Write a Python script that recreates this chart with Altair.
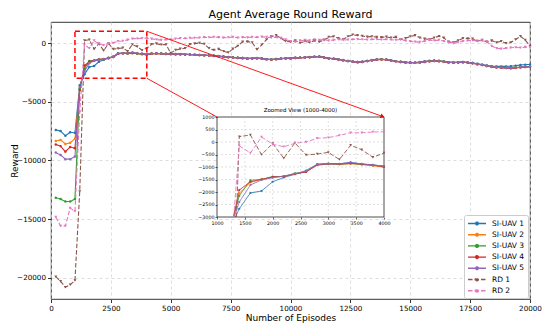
import math
import altair as alt
import pandas as pd

# ---------------- data ----------------
episodes = list(range(200, 20001, 200))
series_names = ["SI-UAV 1", "SI-UAV 2", "SI-UAV 3", "SI-UAV 4", "SI-UAV 5", "RD 1", "RD 2"]
series_colors = ["#1f77b4", "#ff7f0e", "#2ca02c", "#d62728", "#9467bd", "#8c564b", "#e377c2"]
rd_names = ["RD 1", "RD 2"]

si_uav_1 = [
    -7400, -7500, -7900, -7600, -7650, -3600, -2670, -2040, -1960, -1590,
    -1420, -1290, -1140, -890, -860, -870, -810, -890, -910, -980,
    -910, -890, -900, -930, -930, -950, -950, -970, -980, -1000,
    -1030, -1040, -1070, -1090, -1120, -1170, -1200, -1240, -1260, -1280,
    -1320, -1300, -1290, -1320, -1380, -1410, -1360, -1330, -1300, -1300,
    -1260, -1250, -1220, -1200, -1170, -1160, -1230, -1300, -1340, -1390,
    -1460, -1530, -1590, -1610, -1600, -1530, -1460, -1400, -1390, -1420,
    -1480, -1540, -1600, -1640, -1660, -1660, -1620, -1560, -1500, -1480,
    -1510, -1570, -1630, -1650, -1640, -1620, -1650, -1700, -1770, -1840,
    -1920, -1970, -1990, -1990, -1990, -1970, -1930, -1870, -1840, -1830,
]
si_uav_2 = [
    -8350, -8250, -8600, -8500, -8150, -3950, -2050, -1620, -1500, -1400,
    -1370, -1290, -1180, -930, -880, -900, -870, -900, -950, -1010,
    -920, -900, -910, -920, -940, -950, -960, -960, -990, -1010,
    -1020, -1050, -1060, -1100, -1130, -1160, -1210, -1230, -1270, -1290,
    -1330, -1310, -1300, -1330, -1390, -1420, -1370, -1340, -1310, -1310,
    -1280, -1260, -1240, -1210, -1180, -1170, -1240, -1310, -1350, -1400,
    -1470, -1540, -1600, -1630, -1610, -1540, -1470, -1420, -1400, -1430,
    -1490, -1560, -1620, -1660, -1680, -1690, -1660, -1610, -1560, -1530,
    -1550, -1600, -1650, -1670, -1660, -1640, -1670, -1720, -1800, -1870,
    -1960, -2030, -2070, -2100, -2120, -2140, -2110, -2070, -2040, -2020,
]
si_uav_3 = [
    -13170, -13280, -13500, -13500, -13280, -3850, -2150, -1530, -1500, -1380,
    -1380, -1250, -1200, -890, -880, -890, -850, -900, -930, -960,
    -900, -880, -900, -910, -930, -940, -940, -950, -970, -990,
    -1010, -1030, -1050, -1080, -1110, -1150, -1190, -1220, -1250, -1270,
    -1310, -1290, -1280, -1310, -1370, -1400, -1360, -1320, -1290, -1290,
    -1260, -1240, -1220, -1190, -1160, -1150, -1220, -1290, -1330, -1380,
    -1450, -1520, -1580, -1610, -1590, -1520, -1450, -1400, -1380, -1410,
    -1470, -1540, -1600, -1640, -1660, -1670, -1640, -1590, -1540, -1510,
    -1530, -1580, -1630, -1650, -1640, -1620, -1650, -1700, -1780, -1850,
    -1940, -2010, -2050, -2080, -2100, -2120, -2090, -2050, -2020, -2000,
]
si_uav_4 = [
    -8640, -8780, -9250, -8860, -8970, -4000, -1920, -1590, -1490, -1400,
    -1380, -1280, -1200, -920, -870, -880, -860, -880, -930, -1000,
    -910, -900, -920, -930, -940, -950, -960, -970, -990, -1010,
    -1030, -1050, -1070, -1100, -1130, -1170, -1210, -1240, -1270, -1290,
    -1330, -1310, -1300, -1330, -1390, -1420, -1380, -1340, -1310, -1310,
    -1280, -1260, -1240, -1210, -1180, -1170, -1240, -1310, -1350, -1400,
    -1470, -1540, -1600, -1630, -1610, -1540, -1470, -1420, -1400, -1430,
    -1490, -1560, -1620, -1660, -1680, -1690, -1660, -1610, -1560, -1530,
    -1550, -1600, -1650, -1670, -1660, -1640, -1670, -1720, -1800, -1870,
    -1960, -2040, -2080, -2110, -2130, -2150, -2120, -2080, -2050, -2030,
]
si_uav_5 = [
    -9330, -9530, -9890, -9890, -9670, -3730, -2400, -1720, -1520, -1430,
    -1360, -1270, -1170, -900, -870, -880, -820, -870, -920, -960,
    -900, -890, -910, -920, -930, -940, -950, -960, -980, -1000,
    -1020, -1040, -1060, -1090, -1120, -1160, -1200, -1230, -1260, -1280,
    -1320, -1300, -1290, -1320, -1380, -1410, -1370, -1330, -1300, -1300,
    -1270, -1250, -1230, -1200, -1170, -1160, -1230, -1300, -1340, -1390,
    -1460, -1530, -1590, -1620, -1600, -1530, -1460, -1410, -1390, -1420,
    -1480, -1550, -1610, -1650, -1670, -1680, -1650, -1600, -1550, -1520,
    -1540, -1590, -1640, -1660, -1650, -1630, -1660, -1710, -1790, -1860,
    -1950, -2020, -2060, -2090, -2110, -2130, -2100, -2060, -2030, -2010,
]
rd_1 = [
    -19900, -20300, -20800, -20580, -20220, -12640, 214, 280, -507, -60,
    -650, -35, -520, -480, -415, -700, -130, -310, -610, -440,
    -100, -50, -150, -120, -850, -600, -500, -450, -100, -50,
    0, -80, -450, -600, -520, -700, -820, -500, -250, 100,
    120, 50, -550, -150, 300, 550, 650, 400, 150, 100,
    200, 0, 150, 50, 200, 100, 250, 500, 550, 400,
    300, 550, 700, 650, 600, 520, 550, 500, 480, 520,
    450, 500, 300, 400, 550, 650, 450, 350, 300, 450,
    580, 450, 100, 30, 200, 400, 380, 350, 150, 250,
    100, 200, 50, 150, -20, 50, 300, 580, 250, -250,
]
rd_2 = [
    -14830, -15580, -15580, -14060, -14330, -5850, -150, -440, 200, -90,
    -190, -50, 0, 150, 175, 265, 370, 370, 400, 410,
    350, 300, 250, 280, 300, 350, 400, 380, 420, 430,
    450, 480, 470, 500, 480, 450, 470, 500, 450, 480,
    460, 500, 480, 520, 500, 460, 480, 420, 300, 150,
    100, 200, 250, 220, 300, 250, 300, 200, 250, 300,
    250, 280, 300, 320, 300, 280, 300, 320, 280, 300,
    280, 250, 300, 200, 150, 100, 80, 150, 250, 200,
    250, 150, 50, -30, 50, 150, 200, 220, 180, 200,
    100, -250, -450, -500, -450, -400, -380, -400, -350, -360,
]
all_series = [si_uav_1, si_uav_2, si_uav_3, si_uav_4, si_uav_5, rd_1, rd_2]

chart_title = "Agent Average Round Reward"
inset_title_text = "Zoomed View (1000-4000)"
x_ticks = [0, 2500, 5000, 7500, 10000, 12500, 15000, 17500, 20000]
y_ticks = [-20000, -15000, -10000, -5000, 0]
inset_x_ticks = [1000, 1500, 2000, 2500, 3000, 3500, 4000]
inset_y_ticks = [-3000, -2500, -2000, -1500, -1000, -500, 0, 500, 1000]
zoom_x = [1000, 4000]
zoom_y = [-3000, 1000]
# where each series enters the inset at its lower edge
inset_entry_x = [1330, 1300, 1300, 1295, 1310, 1350, 1300]

rows = []
for name, vals in zip(series_names, all_series):
    for ep, v in zip(episodes, vals):
        rows.append({"series": name, "episode": ep, "reward": v,
                     "rd": name in rd_names})
df = pd.DataFrame(rows)

inset_rows = []
for name, vals, ex in zip(series_names, all_series, inset_entry_x):
    inset_rows.append({"series": name, "episode": ex, "reward": zoom_y[0],
                       "marker": False, "rd": name in rd_names})
    for ep, v in zip(episodes, vals):
        if 1400 <= ep <= zoom_x[1]:
            inset_rows.append({"series": name, "episode": ep, "reward": v,
                               "marker": True, "rd": name in rd_names})
inset_df = pd.DataFrame(inset_rows)

# ---------------- layout ----------------
W, H = 479, 277
IX0, IX1, IY0, IY1 = 166, 333, 95, 195
FONT = "DejaVu Sans"
XDOM = [0, 20000]
YDOM = [-21800, 1790]

xs = alt.Scale(domain=XDOM, nice=False, zero=False)
ys = alt.Scale(domain=YDOM, nice=False, zero=False)
xi = alt.Scale(domain=zoom_x, range=[IX0, IX1], nice=False, zero=False)
yi = alt.Scale(domain=zoom_y, range=[IY1, IY0], nice=False, zero=False)

color_scale = alt.Scale(domain=series_names, range=series_colors)
dash_scale = alt.Scale(domain=series_names, range=[[1, 0]] * 5 + [[4.5, 2]] * 2)

LEG_PATH = "M-2,0L2,0M-0.3,0A0.3,0.3,0,1,0,0.3,0A0.3,0.3,0,1,0,-0.3,0"
legend_def = alt.Legend(
    title=None, orient="none", legendX=413, legendY=193,
    symbolType=LEG_PATH, symbolSize=81, symbolOffset=4.5, symbolStrokeWidth=1.4,
    labelOffset=9.5, labelFontSize=7.5, labelFont=FONT, labelColor="black",
    padding=3, rowPadding=1.2, strokeColor="#cccccc", fillColor="white",
    cornerRadius=2,
)

x_axis = alt.Axis(values=x_ticks, format="d", labelFontSize=7.2, titleFontSize=9,
                  tickSize=3.5, tickWidth=0.8, labelPadding=2, grid=True,
                  gridDash=[3, 3], gridColor="#d4d4d4", gridWidth=0.8,
                  labelFlush=False, domain=False,
                  titleX=W / 2, titleY=21, titleAlign="center", titleBaseline="alphabetic")
y_axis = alt.Axis(values=y_ticks, format="d", labelFontSize=7.2, titleFontSize=9,
                  tickSize=3.5, tickWidth=0.8, labelPadding=2, grid=True,
                  gridDash=[3, 3], gridColor="#d4d4d4", gridWidth=0.8,
                  labelFlush=False, domain=False,
                  titleX=-37, titleY=H / 2, titleAngle=270, titleAlign="center",
                  titleBaseline="middle")

X_main = alt.X("episode:Q", scale=xs, axis=x_axis, title="Number of Episodes")
Y_main = alt.Y("reward:Q", scale=ys, axis=y_axis, title="Reward")

xi_axis = alt.Axis(orient="bottom", offset=IY1 - H, values=inset_x_ticks, format="d",
                   labelFontSize=4.8, tickSize=2, tickWidth=0.6, labelPadding=1,
                   grid=False, domain=False, labelFlush=False, zindex=1)
yi_axis = alt.Axis(orient="left", offset=-IX0, values=inset_y_ticks, format="d",
                   labelFontSize=4.8, tickSize=2, tickWidth=0.6, labelPadding=1,
                   grid=False, domain=False, labelFlush=False, zindex=1)
X_in = alt.X("episode:Q", scale=xi, axis=xi_axis, title=None)
Y_in = alt.Y("reward:Q", scale=yi, axis=yi_axis, title=None)

C = alt.Color("series:N", scale=color_scale, legend=legend_def)
C_noleg = alt.Color("series:N", scale=color_scale, legend=None)
D = alt.StrokeDash("series:N", scale=dash_scale, legend=legend_def)
D_noleg = alt.StrokeDash("series:N", scale=dash_scale, legend=None)

# ---------------- main panel ----------------
main_lines = alt.Chart(df).mark_line(strokeWidth=1.1).encode(
    x=X_main, y=Y_main, color=C, strokeDash=D, order="episode:Q")
main_pts_si = alt.Chart(df).transform_filter("!datum.rd").mark_point(
    filled=True, size=6, opacity=1, shape="circle").encode(x=X_main, y=Y_main, color=C_noleg)
main_pts_rd = alt.Chart(df).transform_filter("datum.rd").mark_point(
    filled=True, size=9, opacity=1, shape="triangle-down").encode(x=X_main, y=Y_main, color=C_noleg)

box_df = pd.DataFrame({"episode": [zoom_x[0]], "episode2": [zoom_x[1]],
                       "reward": [zoom_y[0]], "reward2": [zoom_y[1]]})
zoom_rect = alt.Chart(box_df).mark_rect(fillOpacity=0, stroke="#ff0000", strokeWidth=1.5,
                                        strokeDash=[5, 3]).encode(
    x=X_main, x2="episode2:Q", y=Y_main, y2="reward2:Q")

conn1 = alt.Chart(pd.DataFrame({"episode": [zoom_x[1]], "reward": [zoom_y[1]]})).mark_rule(
    color="#ff0000", strokeWidth=0.9).encode(x=X_main, y=Y_main, x2=alt.value(IX1), y2=alt.value(IY0))
conn2 = alt.Chart(pd.DataFrame({"episode": [zoom_x[1]], "reward": [zoom_y[0]]})).mark_rule(
    color="#ff0000", strokeWidth=0.9).encode(x=X_main, y=Y_main, x2=alt.value(IX0), y2=alt.value(IY0))

title_mark = alt.Chart(pd.DataFrame({"t": [chart_title]})).mark_text(
    fontSize=11, font=FONT, color="black", baseline="alphabetic").encode(
    text="t:N", x=alt.value(W / 2), y=alt.value(-4.5))

main = alt.layer(main_lines, main_pts_si, main_pts_rd, zoom_rect, conn1, conn2, title_mark)

# arrowhead direction (styling only)
sx = (zoom_x[1] - XDOM[0]) / (XDOM[1] - XDOM[0]) * W
sy = (YDOM[1] - zoom_y[1]) / (YDOM[1] - YDOM[0]) * H
dx, dy = IX1 - sx, IY0 - sy
ang = math.degrees(math.atan2(dy, dx))
L = math.hypot(dx, dy)
ax_, ay_ = IX1 - 2.2 * dx / L, IY0 - 2.2 * dy / L
arrow = alt.Chart(pd.DataFrame({"k": [0]})).mark_point(
    shape="triangle", filled=True, size=22, color="#ff0000", opacity=1,
    angle=90 + ang).encode(x=alt.value(ax_), y=alt.value(ay_))

# ---------------- inset panel ----------------
inset_bg = alt.Chart(box_df).mark_rect(fill="white", stroke="#222222", strokeWidth=0.8).encode(
    x=X_in, x2="episode2:Q", y=Y_in, y2="reward2:Q")
grid_x = alt.Chart(pd.DataFrame({"episode": inset_x_ticks[1:-1]})).mark_rule(
    color="#cccccc", strokeDash=[2, 2], strokeWidth=0.6).encode(
    x=X_in, y=alt.value(IY0), y2=alt.value(IY1))
grid_y = alt.Chart(pd.DataFrame({"reward": inset_y_ticks[1:-1]})).mark_rule(
    color="#cccccc", strokeDash=[2, 2], strokeWidth=0.6).encode(
    y=Y_in, x=alt.value(IX0), x2=alt.value(IX1))
inset_lines = alt.Chart(inset_df).mark_line(strokeWidth=0.9).encode(
    x=X_in, y=Y_in, color=C_noleg, strokeDash=D_noleg, order="episode:Q")
inset_pts_si = alt.Chart(inset_df).transform_filter("datum.marker && !datum.rd").mark_point(
    filled=True, size=5, opacity=1, shape="circle").encode(x=X_in, y=Y_in, color=C_noleg)
inset_pts_rd = alt.Chart(inset_df).transform_filter("datum.marker && datum.rd").mark_point(
    filled=True, size=7, opacity=1, shape="triangle-down").encode(x=X_in, y=Y_in, color=C_noleg)
inset_title = alt.Chart(pd.DataFrame({"t": [inset_title_text]})).mark_text(
    fontSize=5.5, font=FONT, color="black").encode(
    text="t:N", x=alt.value((IX0 + IX1) / 2), y=alt.value(IY0 - 7))

inset = alt.layer(inset_bg, grid_x, grid_y, inset_lines, inset_pts_si, inset_pts_rd,
                  inset_title, arrow)

chart = alt.layer(main, inset).resolve_scale(x="independent", y="independent").properties(
    width=W, height=H,
    padding={"left": 43, "top": 14, "right": 12, "bottom": 26},
    autosize=alt.AutoSizeParams(type="none"),
).configure(font=FONT).configure_view(stroke="black", strokeWidth=0.8).configure_axis(
    labelColor="black", titleColor="black", tickColor="black", labelFont=FONT,
    titleFont=FONT, titleFontWeight="normal")

chart.save("out.html", embed_options={"renderer": "svg", "actions": False})
